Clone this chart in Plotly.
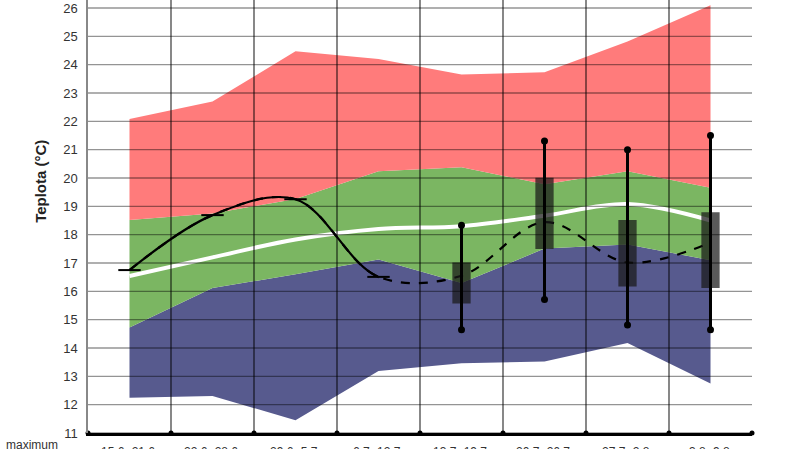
import numpy as np
import plotly.graph_objects as go

weeks = ["15.6.-21.6.", "22.6.-28.6.", "29.6.-5.7.", "6.7.-12.7.",
         "13.7.-19.7.", "20.7.-26.7.", "27.7.-2.8.", "3.8.-9.8."]
x = list(range(len(weeks)))

minimum = [12.24, 12.31, 11.45, 13.19, 13.46, 13.52, 14.18, 12.75]
lower = [14.72, 16.12, 16.6, 17.12, 16.29, 17.51, 17.65, 17.1]
upper = [18.52, 18.75, 19.26, 20.24, 20.38, 19.78, 20.24, 19.66]
maximum = [22.08, 22.7, 24.47, 24.2, 23.65, 23.73, 24.82, 26.1]
mean = [16.54, 17.2, 17.83, 18.2, 18.3, 18.67, 19.08, 18.5]

year = [16.75, 18.69, 19.25, 16.51, 16.55, 18.44, 17.02, 17.72]

box_x = [4, 5, 6, 7]
box_q1 = [15.57, 17.49, 16.17, 16.12]
box_q3 = [17.02, 20.01, 18.52, 18.79]
box_lo = [14.64, 15.71, 14.81, 14.64]
box_hi = [18.33, 21.31, 21.0, 21.5]

RED = "#ff7b7b"
GREEN = "#7bb662"
BLUE = "#575a8e"
FONT = "Liberation Sans, Arial, sans-serif"
BOX_W = 0.22

fig = go.Figure()

# bands
fig.add_trace(go.Scatter(x=x, y=minimum, mode="lines", line=dict(width=0),
                         showlegend=False, hoverinfo="skip"))
for vals, col in [(lower, BLUE), (upper, GREEN), (maximum, RED)]:
    fig.add_trace(go.Scatter(x=x, y=vals, mode="lines", line=dict(width=0),
                             fill="tonexty", fillcolor=col,
                             showlegend=False, hoverinfo="skip"))

fig.add_trace(go.Scatter(x=x, y=mean, mode="lines",
                         line=dict(color="white", width=4, shape="spline"),
                         showlegend=False))

# current year: dashed spline everywhere, solid part clipped by a narrower axis
fig.add_trace(go.Scatter(x=x, y=year, mode="lines",
                         line=dict(color="black", width=2.2, shape="spline", dash="dash"),
                         showlegend=False))
fig.add_trace(go.Scatter(x=x, y=year, mode="lines", xaxis="x3",
                         line=dict(color="black", width=2.2, shape="spline"),
                         showlegend=False))
fig.add_trace(go.Scatter(x=x[:4], y=year[:4], mode="markers", xaxis="x3",
                         marker=dict(symbol="line-ew", size=16,
                                     line=dict(color="black", width=2)),
                         cliponaxis=False, showlegend=False))

# boxes as filled rectangles (scatter, so they sit above the bands)
rx, ry = [], []
for bx, q1, q3 in zip(box_x, box_q1, box_q3):
    rx += [bx - BOX_W / 2, bx + BOX_W / 2, bx + BOX_W / 2, bx - BOX_W / 2, bx - BOX_W / 2, None]
    ry += [q1, q1, q3, q3, q1, None]
fig.add_trace(go.Scatter(x=rx, y=ry, mode="lines", fill="toself",
                         fillcolor="rgba(25,25,25,0.72)", line=dict(width=0),
                         showlegend=False))
wx, wy = [], []
for bx, lo, hi in zip(box_x, box_lo, box_hi):
    wx += [bx, bx, None]
    wy += [lo, hi, None]
fig.add_trace(go.Scatter(x=wx, y=wy, mode="lines+markers",
                         line=dict(color="black", width=3),
                         marker=dict(color="black", size=7),
                         showlegend=False))

# boundary dots on x axis
bounds = np.arange(-0.5, len(weeks), 1.0)
fig.add_trace(go.Scatter(x=bounds, y=[11] * len(bounds), mode="markers",
                         marker=dict(color="black", size=5), cliponaxis=False,
                         showlegend=False))

shapes = []
for v in range(11, 27):
    shapes.append(dict(type="line", xref="x", yref="y", x0=-0.5, x1=7.5, y0=v, y1=v,
                       line=dict(color="rgba(0,0,0,0.42)", width=1.4), layer="above"))
for b in bounds[1:-1]:
    shapes.append(dict(type="line", xref="x", yref="paper", x0=b, x1=b, y0=0, y1=1,
                       line=dict(color="rgba(0,0,0,0.72)", width=1.3), layer="above"))

annotations = [dict(text=w, x=i, xref="x", y=0, yref="paper", yanchor="top",
                    yshift=-10, showarrow=False,
                    font=dict(family=FONT, size=12, color="#333"))
               for i, w in enumerate(weeks)]
annotations.append(dict(text="maximum", x=0, xref="paper", xanchor="left", xshift=-84,
                        y=0, yref="paper", yanchor="top", yshift=-3, showarrow=False,
                        font=dict(family=FONT, size=12, color="#333")))
annotations.append(dict(text="<b>Teplota (°C)</b>", x=0, xref="paper", xanchor="center",
                        xshift=-47, y=0.58, yref="paper", yanchor="middle",
                        textangle=-90, showarrow=False,
                        font=dict(family=FONT, size=15, color="#222")))

yr = [11, 26 + 8 / 28.33]
fig.update_layout(
    width=800, height=449,
    margin=dict(l=88, r=48, t=0, b=16),
    plot_bgcolor="rgba(0,0,0,0)", paper_bgcolor="white",
    font=dict(family=FONT, size=13, color="#333"),
    xaxis=dict(range=[-0.5, 7.5], showgrid=False, zeroline=False,
               showticklabels=False, ticks="", showline=True,
               linecolor="black", linewidth=3),
    xaxis3=dict(range=[-0.5, 3.0], domain=[0, 3.5 / 8], anchor="y",
                visible=False, showgrid=False, zeroline=False),
    yaxis=dict(range=yr, tickvals=list(range(11, 27)), showgrid=False,
               zeroline=False, showline=True, linecolor="#888", linewidth=1.5,
               ticks="", ticklabelstandoff=6),
    yaxis2=dict(range=yr, overlaying="y", side="right", tickvals=list(range(11, 27)),
                showgrid=False, zeroline=False, showline=True, linecolor="#888",
                linewidth=1.5, ticks="outside", ticklen=4, tickcolor="#888"),
    shapes=shapes,
    annotations=annotations,
)

fig.write_html("out.html", config={"displayModeBar": False},
               post_script="document.body.style.margin='0';")
